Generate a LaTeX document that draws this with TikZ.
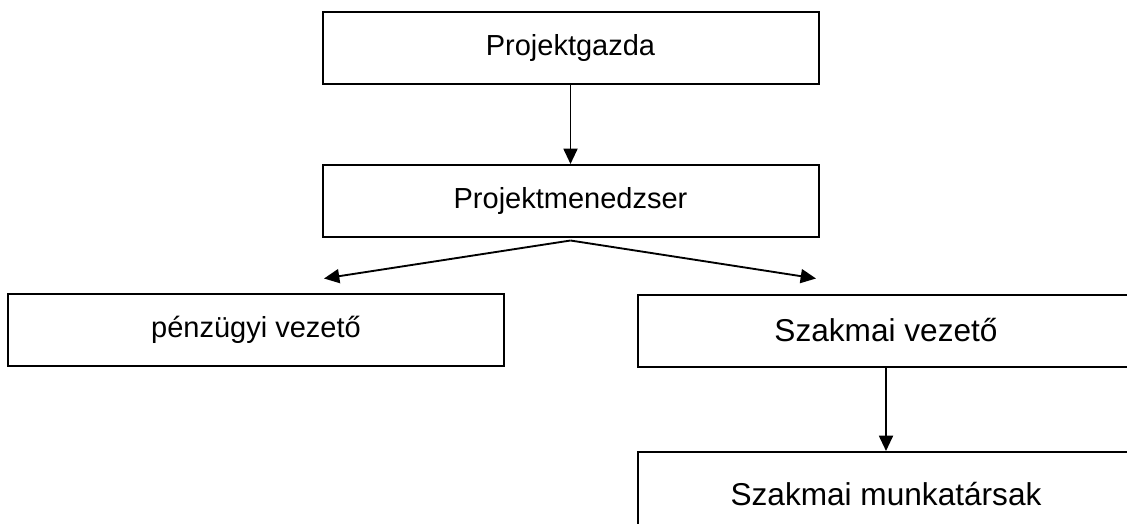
\documentclass[tikz,border=0pt]{standalone}
\usepackage{fontspec}
\setmainfont{Liberation Sans}
\usetikzlibrary{arrows.meta}

\tikzset{
  doboz/.style={draw, line width=1.5pt, rectangle, minimum width=372pt, minimum height=54pt, inner sep=0pt, font=\fontsize{21.75}{26}\selectfont},
  nagydoboz/.style={doboz, font=\fontsize{23.7}{28}\selectfont},
  nyil/.style={line width=1.4pt, -{Triangle[length=11.5pt,width=10.5pt]}}
}

\begin{document}
\begin{tikzpicture}[x=0.75pt,y=0.75pt,yscale=-1,xscale=1]
        \useasboundingbox (0,0) rectangle (1127,524);

        % Boxes
        \node [doboz] (gazda) at (570.5,48) {Projektgazda};
        \node [doboz] (menedzser) at (570.5,201) {Projektmenedzser};
        \node [doboz] (penzugy) at (256,330) {pénzügyi vezető};
        \node [nagydoboz] (szakmai) at (886,330.5) {Szakmai vezető};
        \node [nagydoboz, minimum height=63pt] (munkatars) at (886,494) {Szakmai munkatársak};

        % Branch points
        \coordinate (elagazas) at (570.5,240.5);
        \coordinate (balveg) at (324,278.5);
        \coordinate (jobbveg) at (816,278.5);

        % Straight Lines
        \draw [nyil] (gazda.south) -- (menedzser.north);
        \draw [nyil] (elagazas) -- (balveg);
        \draw [nyil] (elagazas) -- (jobbveg);
        \draw [nyil] (szakmai.south) -- (munkatars.north);

\end{tikzpicture}
\end{document}
